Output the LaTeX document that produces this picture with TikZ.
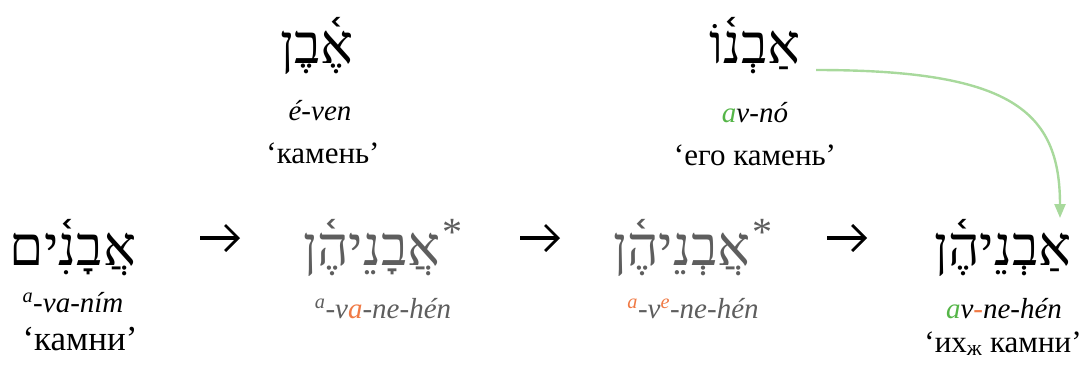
\documentclass[tikz,border=0pt]{standalone}
\usepackage{fontspec}
\setmainfont{Liberation Serif}
\newfontfamily\hebfont[Script=Hebrew]{Liberation Serif}
\TeXXeTstate=1
\usetikzlibrary{arrows.meta, calc}

\definecolor{grayword}{HTML}{5E5E5E}
\definecolor{orangemark}{HTML}{F07A45}
\definecolor{greenmark}{HTML}{55B548}
\definecolor{greenline}{HTML}{A8D99C}

\newcommand\hebsize{\hebfont\fontsize{55}{62}\selectfont}
\newlength\alefwd
\newlength\alefbetwd

\begin{document}
\begin{tikzpicture}[
    x=1pt, y=-1pt,
    heb/.style={anchor=base, inner sep=0pt, font=\hebsize},
    translit/.style={anchor=base, inner sep=0pt, font=\itshape\fontsize{29}{34}\selectfont},
    gloss/.style={anchor=base, inner sep=0pt, font=\fontsize{31}{36}\selectfont},
    starsign/.style={anchor=north west, inner sep=0pt, xshift=1pt, font=\fontsize{40}{46}\selectfont},
    steparrow/.style={-{Straight Barb[length=13pt, width=26pt, line width=2.8pt]}, line width=3.4pt},
    curve/.style={-{Triangle[length=14pt, width=11pt]}, line width=2.4pt, draw=greenline}
]
    \useasboundingbox (0,0) rectangle (1085,365);
    \settowidth{\alefwd}{\hebsize א}
    \settowidth{\alefbetwd}{\hebsize אב}

    % top row
    \node[heb] (even) at (317,63) {\beginR אֶ֫בֶן\endR};
    \node[translit] (evenTr) at (320,120) {é-ven};
    \node[gloss] (evenGl) at (323,163) {‘камень’};

    \node[heb] (avno) at (755,63) {\beginR אַבְנ֫וֹ\endR};
    \begin{scope}
        \clip ($(avno.base east)+(-\alefwd,-2pt)$) rectangle ($(avno.base east)+(4pt,-30pt)$);
        \node[heb, text=greenmark] (avnoMark) at (avno.base) {\beginR אַבְנ֫וֹ\endR};
    \end{scope}
    \node[translit] (avnoTr) at (755,122) {\textcolor{greenmark}{a}v-nó};
    \node[gloss] (avnoGl) at (755,165) {‘его камень’};

    % bottom row
    \node[heb] (avanim) at (73,265) {\beginR אֲבָנִ֫ים\endR};
    \node[translit] (avanimTr) at (73,312) {\textsuperscript{a}-va-ním};
    \node[gloss, font=\fontsize{35}{40}\selectfont] (avanimGl) at (80,350) {‘камни’};

    \node[heb, text=grayword] (stepA) at (372,265) {\beginR אֲבָנֵיהֶ֫ן\endR};
    \begin{scope}
        \clip ($(stepA.base east)+(-\alefbetwd,-2pt)$) rectangle ($(stepA.base east)+(-\alefwd,-30pt)$);
        \node[heb, text=orangemark] (stepAMark) at (stepA.base) {\beginR אֲבָנֵיהֶ֫ן\endR};
    \end{scope}
    \node[starsign, text=grayword] (stepAStar) at (stepA.north east) {*};
    \node[translit, text=grayword] (stepATr) at (383,318)
        {\textsuperscript{a}-v\textcolor{orangemark}{a}-ne-hén};

    \node[heb, text=grayword] (stepB) at (682,265) {\beginR אֲבְנֵיהֶ֫ן\endR};
    \begin{scope}
        \clip ($(stepB.base east)+(-\alefbetwd,-2pt)$) rectangle ($(stepB.base east)+(4pt,-30pt)$);
        \node[heb, text=orangemark] (stepBMark) at (stepB.base) {\beginR אֲבְנֵיהֶ֫ן\endR};
    \end{scope}
    \node[starsign, text=grayword] (stepBStar) at (stepB.north east) {*};
    \node[translit, text=grayword] (stepBTr) at (693,318)
        {\textcolor{orangemark}{\textsuperscript{a}}-v\textcolor{orangemark}{\textsuperscript{e}}-ne-hén};

    \node[heb] (avnehen) at (1003,265) {\beginR אַבְנֵיהֶ֫ן\endR};
    \begin{scope}
        \clip ($(avnehen.base east)+(-\alefwd,-2pt)$) rectangle ($(avnehen.base east)+(4pt,-30pt)$);
        \node[heb, text=greenmark] (avnehenMarkA) at (avnehen.base) {\beginR אַבְנֵיהֶ֫ן\endR};
    \end{scope}
    \begin{scope}
        \clip ($(avnehen.base east)+(-\alefbetwd,-2pt)$) rectangle ($(avnehen.base east)+(-\alefwd,-30pt)$);
        \node[heb, text=orangemark] (avnehenMarkB) at (avnehen.base) {\beginR אַבְנֵיהֶ֫ן\endR};
    \end{scope}
    \node[translit] (avnehenTr) at (1004,318)
        {\textcolor{greenmark}{a}v\textcolor{orangemark}{-}ne-hén};
    \node[gloss] (avnehenGl) at (1003,352) {‘их\textsubscript{ж} камни’};

    % step arrows
    \coordinate (arrAstart) at (200,238);
    \coordinate (arrAend) at (240,238);
    \coordinate (arrBstart) at (520,238);
    \coordinate (arrBend) at (560,238);
    \coordinate (arrCstart) at (827,238);
    \coordinate (arrCend) at (867,238);
    \draw[steparrow] (arrAstart) -- (arrAend);
    \draw[steparrow] (arrBstart) -- (arrBend);
    \draw[steparrow] (arrCstart) -- (arrCend);

    \coordinate (curveStart) at (816,70);
    \coordinate (curveEnd) at (1060,218);
    \draw[curve] (curveStart) .. controls (1010,70) and (1060,110) .. (curveEnd);
\end{tikzpicture}
\end{document}
